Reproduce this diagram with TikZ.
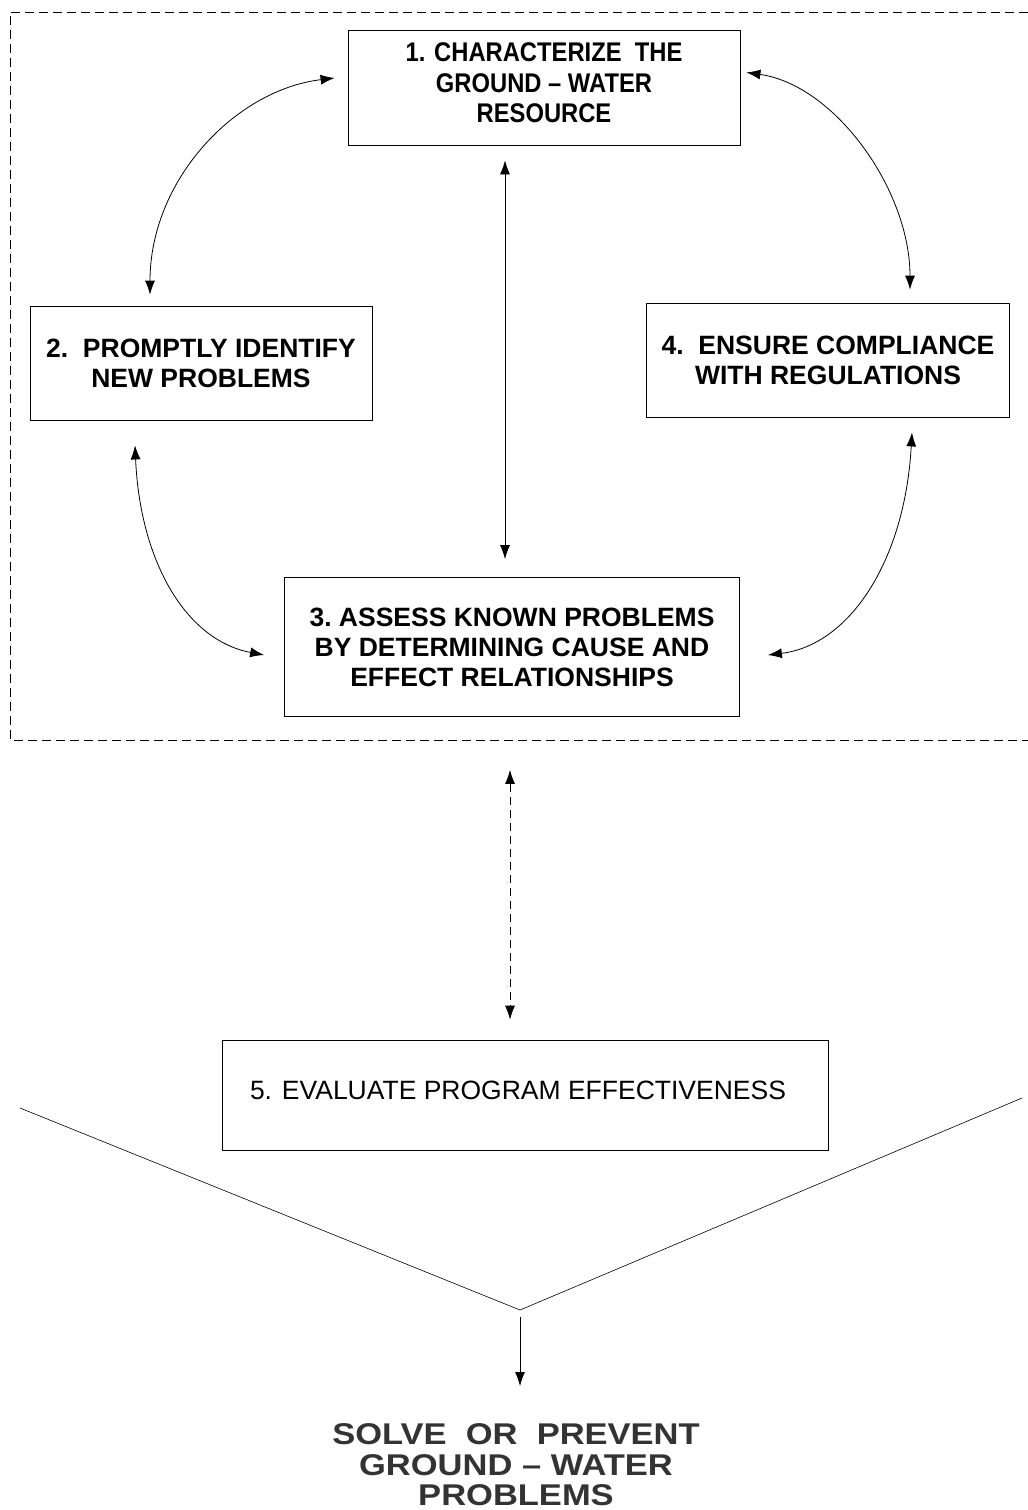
\documentclass[tikz,border=0pt]{standalone}
\usepackage{fontspec}
\setmainfont{Liberation Sans}
\newfontfamily\condfont[FakeStretch=0.88]{Liberation Sans}
\newfontfamily\widefont[FakeStretch=1.15]{Liberation Sans}
\usetikzlibrary{arrows.meta,calc}
\begin{document}
\begin{tikzpicture}[x=1pt,y=-1pt,
  box/.style={draw,line width=0.8pt,inner sep=0pt,align=center},
  boldtxt/.style={font=\fontsize{26.5}{30}\selectfont\bfseries},
  link/.style={line width=0.8pt,{Latex[length=14pt,width=10pt]}-{Latex[length=14pt,width=10pt]}},
  dlink/.style={link,dash pattern=on 8pt off 5pt},
  frame/.style={line width=0.7pt,dash pattern=on 9pt off 5pt},
  vline/.style={line width=0.6pt}]
\useasboundingbox (0,0) rectangle (1028,1510);

% dashed frame
\draw[frame] (1028,12) -- (10,12) -- (10,740) -- (1028,740);

% boxes
\node[box,minimum width=392pt,minimum height=115pt] (b1) at (544,87.5) {};
\node[align=center,font=\condfont\fontsize{27}{30.5}\selectfont\bfseries] (t1) at (544,83)
  {1. CHARACTERIZE\ \ THE\\GROUND – WATER\\RESOURCE};
\node[box,boldtxt,minimum width=342pt,minimum height=114pt] (b2) at (201,363)
  {2.\ \ PROMPTLY IDENTIFY\\NEW PROBLEMS};
\node[box,boldtxt,minimum width=363pt,minimum height=114pt] (b4) at (828,360)
  {4.\ \ ENSURE COMPLIANCE\\WITH REGULATIONS};
\node[box,boldtxt,minimum width=455pt,minimum height=139pt] (b3) at (512,647)
  {3.\ ASSESS KNOWN PROBLEMS\\BY DETERMINING CAUSE AND\\EFFECT RELATIONSHIPS};
\node[box,minimum width=606pt,minimum height=110pt] (b5) at (525,1095) {};
\node[font=\fontsize{26.5}{30}\selectfont] (t5) at (518,1090)
  {5. EVALUATE PROGRAM EFFECTIVENESS};
\node[align=center,text=black!80,font=\widefont\fontsize{30}{30.5}\selectfont\bfseries] (goal) at (516,1465)
  {SOLVE\ \ OR\ \ PREVENT\\GROUND – WATER\\PROBLEMS};

% connector end points
\coordinate (l1a) at ($(b1.west)+(-13,-9.5)$);
\coordinate (l1b) at ($(b2.north)+(-51,-11)$);
\coordinate (r1a) at ($(b1.east)+(6,-15)$);
\coordinate (r1b) at ($(b4.north)+(82,-13)$);
\coordinate (l2a) at ($(b2.south)+(-66,25)$);
\coordinate (l2b) at ($(b3.west)+(-20,8)$);
\coordinate (r2a) at ($(b4.south)+(84,15)$);
\coordinate (r2b) at ($(b3.east)+(28,8)$);
\coordinate (ca) at ($(b1.south)+(-39,15)$);
\coordinate (cb) at ($(b3.north)+(-7,-18)$);
\coordinate (da) at ($(b3.south)+(-2,53)$);
\coordinate (db) at ($(b5.north)+(-15,-20)$);

\draw[link] (l1a) .. controls (235,90) and (150,180) .. (l1b);
\draw[link] (r1a) .. controls (835,85) and (910,190) .. (r1b);
\draw[link] (l2a) .. controls (140,560) and (185,640) .. (l2b);
\draw[link] (r2a) .. controls (905,560) and (850,645) .. (r2b);
\draw[link] (ca) -- (cb);
\draw[dlink] (da) -- (db);

% funnel
\coordinate (vl) at (20,1108);
\coordinate (vtx) at (520,1310);
\coordinate (vr) at (1022,1098);
\draw[vline] (vl) -- (vtx) -- (vr);
\draw[line width=0.8pt,-{Latex[length=14pt,width=10pt]},shorten <=7pt] (vtx) -- (vtx |- 0,1386) coordinate (tip);
\end{tikzpicture}
\end{document}
